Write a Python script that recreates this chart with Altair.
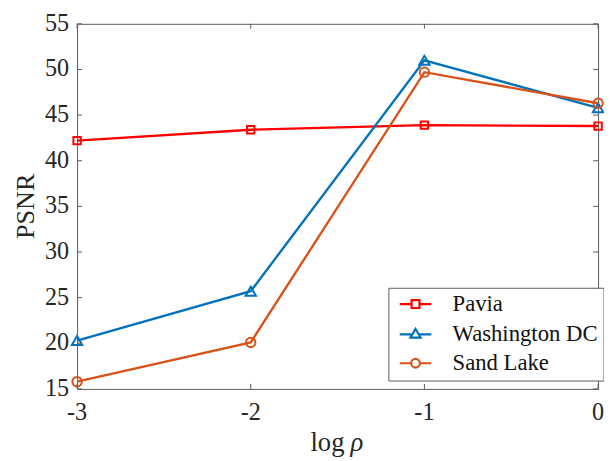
import altair as alt
import pandas as pd

# ---- data ----
x_vals = [-3, -2, -1, 0]
series = ["Pavia", "Washington DC", "Sand Lake"]
pavia = [42.2, 43.4, 43.9, 43.8]
washington = [20.3, 25.7, 51.0, 45.8]
sand_lake = [15.8, 20.1, 49.7, 46.3]
colors = ["#FF0000", "#0072BD", "#D95319"]
shapes = ["square", "triangle-up", "circle"]
marker_sizes = [56, 110, 90]
x_ticks = [-3, -2, -1, 0]
x_tick_labels = ["-3", "-2", "-1", "0"]
y_ticks = [15, 20, 25, 30, 35, 40, 45, 50, 55]
y_tick_labels = ["15", "20", "25", "30", "35", "40", "45", "50", "55"]

# legend icons: line segment + hollow marker
legend_paths = [
    "M-4,0H-1M1,0H4M-1,-1H1V1H-1Z",
    "M-4,0.2H-0.9M0.9,0.2H4M0,-1.2L1.3,1L-1.3,1Z",
    "M-4,0H-1.1M1.1,0H4M1.1,0A1.1,1.1,0,1,1,-1.1,0A1.1,1.1,0,1,1,1.1,0Z",
]

W, H = 528, 370
FONT = "Liberation Serif"
TXT = "#262626"
FRAME = "#5a5a5a"

rows = []
for name, vals in zip(series, [pavia, washington, sand_lake]):
    for xv, yv in zip(x_vals, vals):
        rows.append({"series": name, "x": xv, "y": yv})
df = pd.DataFrame(rows)

xs = alt.Scale(domain=[-3, 0], nice=False, zero=False)
ys = alt.Scale(domain=[15, 55], nice=False, zero=False)

layers = []
for i, name in enumerate(series):
    base = alt.Chart(df).transform_filter(alt.datum.series == name)
    enc = dict(x=alt.X("x:Q", scale=xs, axis=None), y=alt.Y("y:Q", scale=ys, axis=None))
    layers.append(base.mark_line(color=colors[i], strokeWidth=2.4).encode(**enc))
    layers.append(base.mark_point(shape=shapes[i], color=colors[i], filled=False,
                                  strokeWidth=2, size=marker_sizes[i], opacity=1).encode(**enc))

# inward ticks on all four sides + tick labels
xt = pd.DataFrame({"v": x_ticks, "lab": x_tick_labels})
yt = pd.DataFrame({"v": y_ticks, "lab": y_tick_labels})
yenc = alt.Y("v:Q", scale=ys, axis=None)
xenc = alt.X("v:Q", scale=xs, axis=None)
layers.append(alt.Chart(yt).mark_rule(color=FRAME, strokeWidth=1).encode(y=yenc, x=alt.value(0), x2=alt.value(5)))
layers.append(alt.Chart(yt).mark_rule(color=FRAME, strokeWidth=1).encode(y=yenc, x=alt.value(W - 5), x2=alt.value(W)))
layers.append(alt.Chart(xt).mark_rule(color=FRAME, strokeWidth=1).encode(x=xenc, y=alt.value(H - 5), y2=alt.value(H)))
layers.append(alt.Chart(xt).mark_rule(color=FRAME, strokeWidth=1).encode(x=xenc, y=alt.value(0), y2=alt.value(5)))
layers.append(alt.Chart(yt).mark_text(font=FONT, fontSize=24.5, color=TXT, align="right",
                                      baseline="middle", dx=-8).encode(y=yenc, x=alt.value(0), text="lab:N"))
layers.append(alt.Chart(xt).mark_text(font=FONT, fontSize=24.5, color=TXT, align="center",
                                      baseline="top", dy=12).encode(x=xenc, y=alt.value(H), text="lab:N"))

# axis titles: PSNR, log (regular) + rho (italic)
layers.append(alt.Chart(pd.DataFrame({"t": ["PSNR"]})).mark_text(
    font=FONT, fontSize=26.5, align="center", baseline="alphabetic", angle=270, color=TXT
).encode(text="t:N", x=alt.value(-44), y=alt.value(H / 2)))
layers.append(alt.Chart(pd.DataFrame({"t": ["log"]})).mark_text(
    font=FONT, fontSize=27, align="right", baseline="alphabetic", color=TXT
).encode(text="t:N", x=alt.value(271), y=alt.value(433)))
layers.append(alt.Chart(pd.DataFrame({"t": ["ρ"]})).mark_text(
    font=FONT, fontSize=27, fontStyle="italic", align="left", baseline="alphabetic", color=TXT
).encode(text="t:N", x=alt.value(277), y=alt.value(433)))

# legend (from an empty layer with explicit scale domains)
leg = alt.Legend(title=None, orient="none", legendX=315.5, legendY=267.5, direction="vertical",
                 strokeColor=FRAME, fillColor="white", padding=5, cornerRadius=0,
                 labelFont=FONT, labelFontSize=23, labelColor="#111111", labelLimit=0,
                 symbolSize=64, symbolStrokeWidth=2.2, symbolOffset=11, labelOffset=26,
                 rowPadding=6, symbolOpacity=1)
layers.append(alt.Chart(pd.DataFrame({"series": series})).transform_filter("false").mark_point(
    filled=False, strokeWidth=2, opacity=1
).encode(
    color=alt.Color("series:N", scale=alt.Scale(domain=series, range=colors), legend=leg),
    shape=alt.Shape("series:N", scale=alt.Scale(domain=series, range=legend_paths), legend=leg),
))

chart = alt.layer(*layers).properties(
    width=W, height=H, autosize="none",
    padding={"left": 70, "top": 13, "right": 6, "bottom": 70},
    background="white",
).configure(font=FONT).configure_view(
    stroke=FRAME, strokeWidth=1
).configure_legend(
    labelFont=FONT,
)

chart.save("out.html", embed_options={"renderer": "svg", "actions": False})
